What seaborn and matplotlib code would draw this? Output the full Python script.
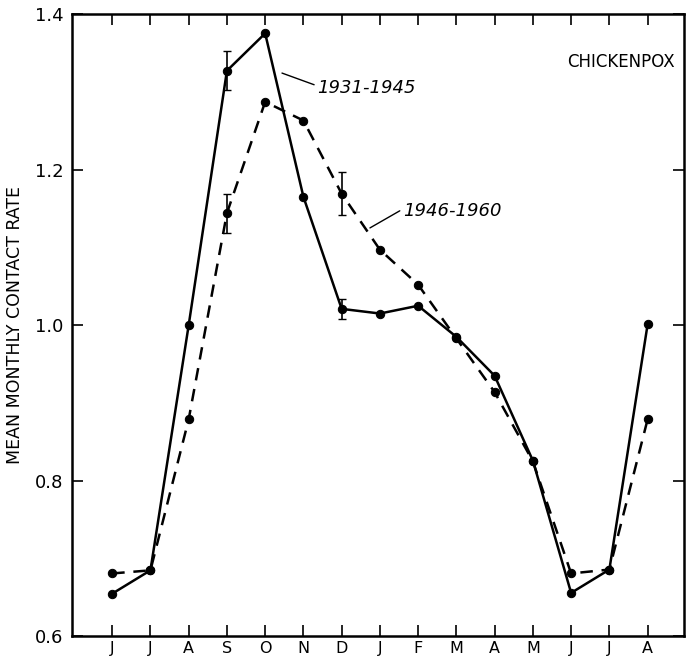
# chickenpox contact rate chart
import numpy as np
import matplotlib
matplotlib.use("Agg")
import matplotlib.pyplot as plt
import pandas as pd
import seaborn as sns

# month labels, June through August of the following year
months = ["J", "J", "A", "S", "O", "N", "D", "J", "F", "M", "A", "M", "J", "J", "A"]

# mean monthly contact rate
rate_1931_1945 = [0.655, 0.685, 1.000, 1.327, 1.375, 1.165, 1.021, 1.015, 1.025, 0.985, 0.935, 0.826, 0.656, 0.686, 1.001]
rate_1946_1960 = [0.681, 0.685, 0.879, 1.144, 1.287, 1.263, 1.169, 1.097, 1.052, 0.983, 0.914, 0.825, 0.681, 0.686, 0.879]

# error bars shown on a few points (month index, half-width)
err_idx = [3, 6]
err_1931_1945 = [0.025, 0.013]
err_1946_1960 = [0.025, 0.028]

yticks = [0.6, 0.8, 1.0, 1.2, 1.4]

sns.set_style("ticks")
plt.rcParams['font.family'] = ['DejaVu Sans']
plt.rcParams['text.color'] = 'black'
plt.rcParams['axes.labelcolor'] = 'black'
plt.rcParams['xtick.color'] = 'black'
plt.rcParams['ytick.color'] = 'black'
plt.rcParams['axes.edgecolor'] = 'black'

x = np.arange(len(months))
df = pd.DataFrame({"month": x, "r1": rate_1931_1945, "r2": rate_1946_1960})

fig = plt.figure(figsize=(6.86, 6.63), dpi=100)
ax = fig.add_axes([0.105, 0.040, 0.892, 0.939])

sns.lineplot(data=df, x="month", y="r1", ax=ax, color="black", linewidth=1.8,
             marker="o", markersize=6, markeredgecolor="black")
sns.lineplot(data=df, x="month", y="r2", ax=ax, color="black", linewidth=1.8,
             linestyle=(0, (5, 3.5)), marker="o", markersize=6, markeredgecolor="black")

# error bars
ax.errorbar(x[err_idx], np.array(rate_1931_1945)[err_idx], yerr=err_1931_1945,
            fmt="none", ecolor="black", elinewidth=1.2, capsize=3)
ax.errorbar(x[err_idx], np.array(rate_1946_1960)[err_idx], yerr=err_1946_1960,
            fmt="none", ecolor="black", elinewidth=1.2, capsize=3)

ax.set_xlim(-1.05, 14.95)
ax.set_ylim(0.6, 1.4)
ax.set_xticks(x)
ax.set_xticklabels(months, fontsize=11.5)
ax.set_yticks(yticks)
ax.set_yticklabels(["%.1f" % v for v in yticks], fontsize=13)
ax.tick_params(direction="in", length=8, width=1.2, top=True, right=True, pad=6)
ax.tick_params(axis="x", pad=3)
for s in ax.spines.values():
    s.set_linewidth(1.8)
    s.set_visible(True)

ax.set_xlabel("")
ax.set_ylabel("MEAN MONTHLY CONTACT RATE", fontsize=12.5, labelpad=8)

# labels for the two lines
ax.text(5.35, 1.305, "1931-1945", fontsize=13, style="italic", va="center", ha="left")
ax.plot([4.44, 5.28], [1.324, 1.309], color="black", linewidth=1)
ax.text(7.6, 1.147, "1946-1960", fontsize=13, style="italic", va="center", ha="left")
ax.plot([6.74, 7.52], [1.125, 1.147], color="black", linewidth=1)

ax.text(13.3, 1.338, "CHICKENPOX", fontsize=12, ha="center", va="center")

fig.savefig("out.png", dpi=100)
